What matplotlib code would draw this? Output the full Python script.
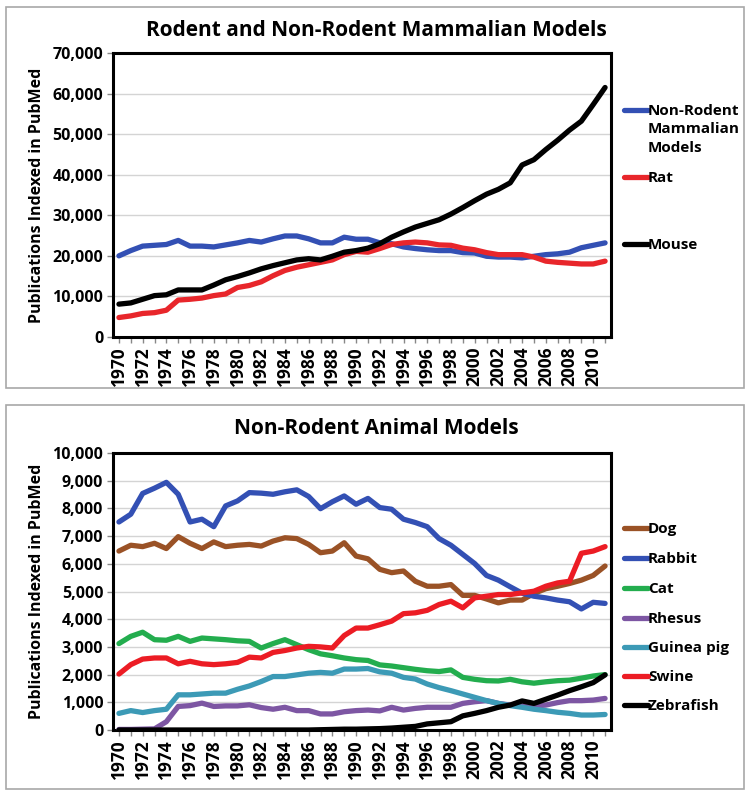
import matplotlib
matplotlib.use("Agg")
import matplotlib.pyplot as plt
from matplotlib.patches import Rectangle
from matplotlib.lines import Line2D
from matplotlib.ticker import FuncFormatter, MultipleLocator

plt.rcParams['font.family'] = ['Open Sans', 'DejaVu Sans']
plt.rcParams['font.weight'] = 'bold'

# ------ data ------
years = list(range(1970, 2012))
year_labels = [str(y) if y % 2 == 0 else '' for y in years]

# top panel
non_rodent = [20000, 21300, 22400, 22600, 22800, 23800, 22400, 22400, 22200, 22700,
              23200, 23800, 23400, 24200, 24900, 24900, 24200, 23200, 23200, 24600,
              24100, 24100, 23200, 23000, 22200, 21800, 21500, 21300, 21300, 20800,
              20700, 19900, 19700, 19700, 19500, 19900, 20300, 20500, 20900, 22000,
              22600, 23200]
rat = [4800, 5200, 5800, 6000, 6600, 9100, 9300, 9600, 10200, 10600,
       12200, 12700, 13600, 15100, 16400, 17200, 17800, 18400, 19000, 20300,
       21100, 20900, 21800, 22800, 23200, 23400, 23200, 22700, 22600, 21900,
       21500, 20800, 20300, 20300, 20300, 19700, 18700, 18400, 18200, 18000,
       18000, 18700]
mouse = [8100, 8400, 9300, 10200, 10400, 11600, 11600, 11600, 12800, 14100,
         14900, 15800, 16800, 17600, 18300, 19000, 19300, 19000, 19900, 20900,
         21300, 21900, 23000, 24600, 25900, 27100, 28000, 28900, 30300, 31900,
         33600, 35200, 36400, 38000, 42400, 43700, 46200, 48500, 51000, 53200,
         57300, 61500]

# bottom panel
dog = [6460, 6670, 6620, 6740, 6550, 6980, 6740, 6550, 6790, 6620,
       6670, 6700, 6640, 6820, 6940, 6910, 6700, 6400, 6460, 6760,
       6280, 6180, 5800, 5680, 5740, 5370, 5190, 5190, 5250, 4860,
       4860, 4730, 4590, 4690, 4690, 4930, 5100, 5190, 5290, 5410,
       5580, 5920]
rabbit = [7510, 7790, 8540, 8730, 8940, 8510, 7510, 7610, 7340, 8090,
          8270, 8570, 8550, 8510, 8600, 8670, 8430, 7990, 8240, 8450,
          8150, 8360, 8030, 7970, 7610, 7490, 7340, 6910, 6670, 6340,
          6010, 5580, 5410, 5170, 4940, 4830, 4770, 4690, 4630, 4370,
          4610, 4570]
cat = [3120, 3380, 3530, 3260, 3240, 3380, 3200, 3320, 3290, 3260,
       3220, 3200, 2960, 3120, 3260, 3080, 2900, 2750, 2680, 2600,
       2540, 2510, 2350, 2310, 2250, 2190, 2140, 2110, 2170, 1900,
       1830, 1780, 1770, 1830, 1740, 1690, 1740, 1780, 1800, 1870,
       1950, 2000]
rhesus = [20, 20, 30, 40, 300, 850, 880, 970, 850, 870,
          870, 910, 810, 750, 820, 700, 700, 580, 580, 660,
          700, 720, 690, 820, 720, 780, 820, 820, 820, 960,
          1020, 1060, 960, 900, 900, 860, 900, 990, 1060, 1060,
          1080, 1140]
guinea_pig = [600, 700, 630, 700, 750, 1270, 1270, 1300, 1330, 1330,
              1470, 1590, 1750, 1930, 1930, 1990, 2050, 2080, 2050, 2200,
              2200, 2220, 2100, 2050, 1900, 1840, 1660, 1530, 1420, 1300,
              1180, 1060, 960, 880, 820, 750, 700, 640, 600, 540,
              540, 560]
swine = [2020, 2360, 2560, 2600, 2600, 2390, 2480, 2390, 2360, 2390,
         2440, 2630, 2600, 2800, 2870, 2960, 3020, 3000, 2960, 3410,
         3680, 3680, 3800, 3930, 4200, 4230, 4320, 4530, 4650, 4410,
         4770, 4830, 4890, 4890, 4950, 5010, 5190, 5310, 5370, 6380,
         6460, 6620]
zebrafish = [0, 0, 0, 0, 0, 0, 0, 0, 0, 0,
             0, 0, 0, 0, 0, 0, 0, 10, 20, 30,
             30, 40, 50, 70, 100, 130, 220, 260, 300, 510,
             600, 700, 820, 900, 1050, 960, 1110, 1260, 1420, 1560,
             1710, 1990]

top_series = [('Non-Rodent\nMammalian\nModels', non_rodent, '#3350b4'),
              ('Rat', rat, '#e8262b'),
              ('Mouse', mouse, '#000000')]
bot_series = [('Dog', dog, '#9a5226'),
              ('Rabbit', rabbit, '#3350b4'),
              ('Cat', cat, '#23ad4e'),
              ('Rhesus', rhesus, '#7d56a3'),
              ('Guinea pig', guinea_pig, '#3c9ab6'),
              ('Swine', swine, '#ec1c24'),
              ('Zebrafish', zebrafish, '#000000')]

W, H = 750, 796
fig = plt.figure(figsize=(7.5, 7.96), dpi=100)

def fx(px):
    return px / W

def fy(py):
    return 1 - py / H

# grey frames round each panel
for y0, y1 in [(7, 388), (405, 789)]:
    fig.patches.append(Rectangle((fx(6), fy(y1)), fx(738), (y1 - y0) / H,
                                 transform=fig.transFigure, fill=False,
                                 edgecolor='#a8a8a8', linewidth=1.2))

comma = FuncFormatter(lambda v, p: '{:,.0f}'.format(v))

def panel(rect, series, ymax, ystep, title, title_y):
    ax = fig.add_axes(rect)
    x = list(range(len(years)))
    for name, vals, col in series:
        ax.plot(x, vals, color=col, linewidth=3.8, solid_joinstyle='round',
                solid_capstyle='round', zorder=3)
    ax.set_xlim(-0.5, len(years) - 0.5)
    ax.set_ylim(0, ymax)
    ax.yaxis.set_major_locator(MultipleLocator(ystep))
    ax.yaxis.set_major_formatter(comma)
    ax.set_xticks(x)
    ax.set_xticklabels(year_labels, rotation=90)
    ax.grid(axis='y', color='#d4d4d4', linewidth=1.0, zorder=0)
    ax.set_axisbelow(True)
    for s in ax.spines.values():
        s.set_linewidth(2.2)
        s.set_color('black')
    ax.tick_params(axis='both', length=4, width=1, color='#888888', pad=3)
    ax.tick_params(axis='y', labelsize=11.5)
    ax.tick_params(axis='x', labelsize=12.5)
    ax.set_ylabel('Publications Indexed in PubMed', fontsize=11.5,
                  fontweight='bold', labelpad=5)
    fig.text(fx(376), fy(title_y), title, fontsize=15, fontweight='bold',
             ha='center', va='center')
    return ax

ax1 = panel([fx(113), fy(337), fx(611 - 113), (337 - 53) / H],
            top_series, 70000, 10000,
            'Rodent and Non-Rodent Mammalian Models', 30)
ax2 = panel([fx(113), fy(730), fx(611 - 113), (730 - 453) / H],
            bot_series, 10000, 1000, 'Non-Rodent Animal Models', 429)

# legends drawn beside the axes, Excel style
def legend(entries, ys):
    for (name, vals, col), y in zip(entries, ys):
        fig.add_artist(Line2D([fx(624), fx(648)], [fy(y), fy(y)], color=col,
                              linewidth=3.8, solid_capstyle='round',
                              transform=fig.transFigure))
        fig.text(fx(648), fy(y - 6), name, fontsize=11, fontweight='bold',
                 ha='left', va='top', linespacing=1.4)

legend(top_series, [110, 177, 244])
legend(bot_series, [528, 558, 588, 618, 647, 676, 705])

fig.savefig('out.png', dpi=100, facecolor='white')
